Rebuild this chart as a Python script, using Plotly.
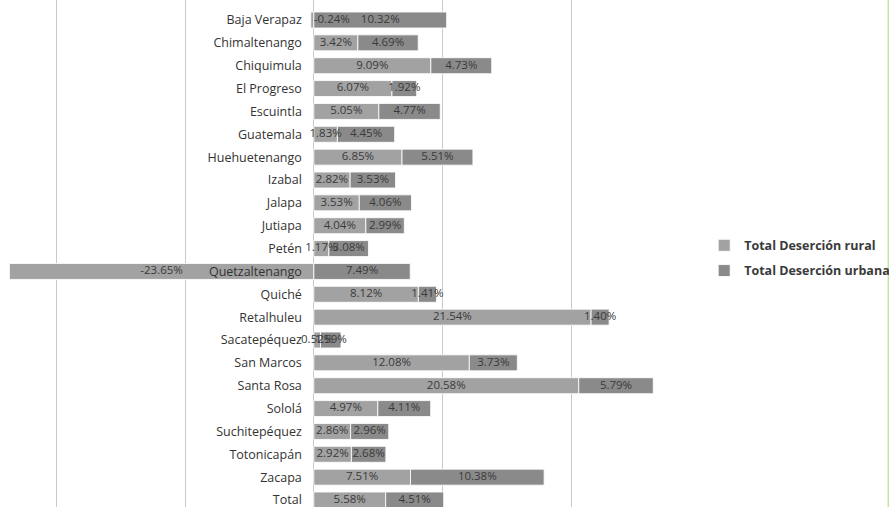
import plotly.graph_objects as go

# Departments (top to bottom) and dropout rates (%)
departamentos = [
    "Baja Verapaz", "Chimaltenango", "Chiquimula", "El Progreso", "Escuintla",
    "Guatemala", "Huehuetenango", "Izabal", "Jalapa", "Jutiapa", "Petén",
    "Quetzaltenango", "Quiché", "Retalhuleu", "Sacatepéquez", "San Marcos",
    "Santa Rosa", "Sololá", "Suchitepéquez", "Totonicapán", "Zacapa", "Total",
]
desercion_rural = [
    -0.24, 3.42, 9.09, 6.07, 5.05, 1.83, 6.85, 2.82, 3.53, 4.04, 1.17,
    -23.65, 8.12, 21.54, 0.52, 12.08, 20.58, 4.97, 2.86, 2.92, 7.51, 5.58,
]
desercion_urbana = [
    10.32, 4.69, 4.73, 1.92, 4.77, 4.45, 5.51, 3.53, 4.06, 2.99, 3.08,
    7.49, 1.41, 1.40, 1.59, 3.73, 5.79, 4.11, 2.96, 2.68, 10.38, 4.51,
]

X_MIN, X_MAX = -24.38, 30
LABEL_FONT = dict(family="Open Sans", size=11.5, color="#3a3a3a")
BAR_LINE = dict(color="rgba(255,255,255,0.85)", width=1)


def pct(values):
    return [f"{v:.2f}%" for v in values]


fig = go.Figure()
fig.add_bar(
    y=departamentos, x=desercion_rural, orientation="h",
    name="Total Deserción rural", legendgroup="rural",
    marker=dict(color="#a2a2a2", line=BAR_LINE), width=0.7,
    hoverinfo="skip",
)
fig.add_bar(
    y=departamentos, x=desercion_urbana, orientation="h",
    name="Total Deserción urbana", legendgroup="urbana",
    marker=dict(color="#8a8a8a", line=BAR_LINE), width=0.7,
    hoverinfo="skip",
)

# Value labels sit above both bar layers, centred on each segment.
# A negative sliver too thin for its label gets it just right of the axis.
rural_x, rural_pos = [], []
for r in desercion_rural:
    if -1 < r < 0:
        rural_x.append(0)
        rural_pos.append("middle right")
    else:
        rural_x.append(r / 2)
        rural_pos.append("middle center")
urban_x = [max(r, 0) + u / 2 for r, u in zip(desercion_rural, desercion_urbana)]

fig.add_scatter(
    y=departamentos, x=rural_x, mode="text", text=pct(desercion_rural),
    textposition=rural_pos, textfont=LABEL_FONT, showlegend=False,
    cliponaxis=False, hoverinfo="skip",
)
fig.add_scatter(
    y=departamentos, x=urban_x, mode="text", text=pct(desercion_urbana),
    textposition="middle center", textfont=LABEL_FONT, showlegend=False,
    cliponaxis=False, hoverinfo="skip",
)

zero_pos = (0 - X_MIN) / (X_MAX - X_MIN)

fig.update_layout(
    width=889, height=507,
    margin=dict(l=0, r=189, t=0, b=0, autoexpand=False),
    barmode="relative",
    plot_bgcolor="white", paper_bgcolor="white",
    xaxis=dict(
        range=[X_MIN, X_MAX], dtick=10, tick0=0,
        showgrid=True, gridcolor="#c9c9c9", gridwidth=1,
        zeroline=True, zerolinecolor="#c9c9c9", zerolinewidth=1,
        showticklabels=False, showline=False,
    ),
    yaxis=dict(
        type="category", range=[21.306, -0.875],
        anchor="free", position=zero_pos,
        showgrid=False, zeroline=False, showline=False,
        ticks="", ticklabelstandoff=12,
        tickfont=dict(family="Open Sans", size=12.5, color="#333333"),
    ),
    legend=dict(
        x=1.006, xanchor="left", y=0.545, yanchor="top",
        bgcolor="rgba(0,0,0,0)", tracegroupgap=6,
        font=dict(family="Open Sans", size=12.5, color="#3a3a3a", weight="bold"),
        itemwidth=30,
    ),
    shapes=[
        dict(type="line", xref="paper", yref="paper",
             x0=888.3 / 700, x1=888.3 / 700, y0=0, y1=1,
             line=dict(color="#c8e0a2", width=1.5)),
    ],
)

fig.write_html("out.html")
